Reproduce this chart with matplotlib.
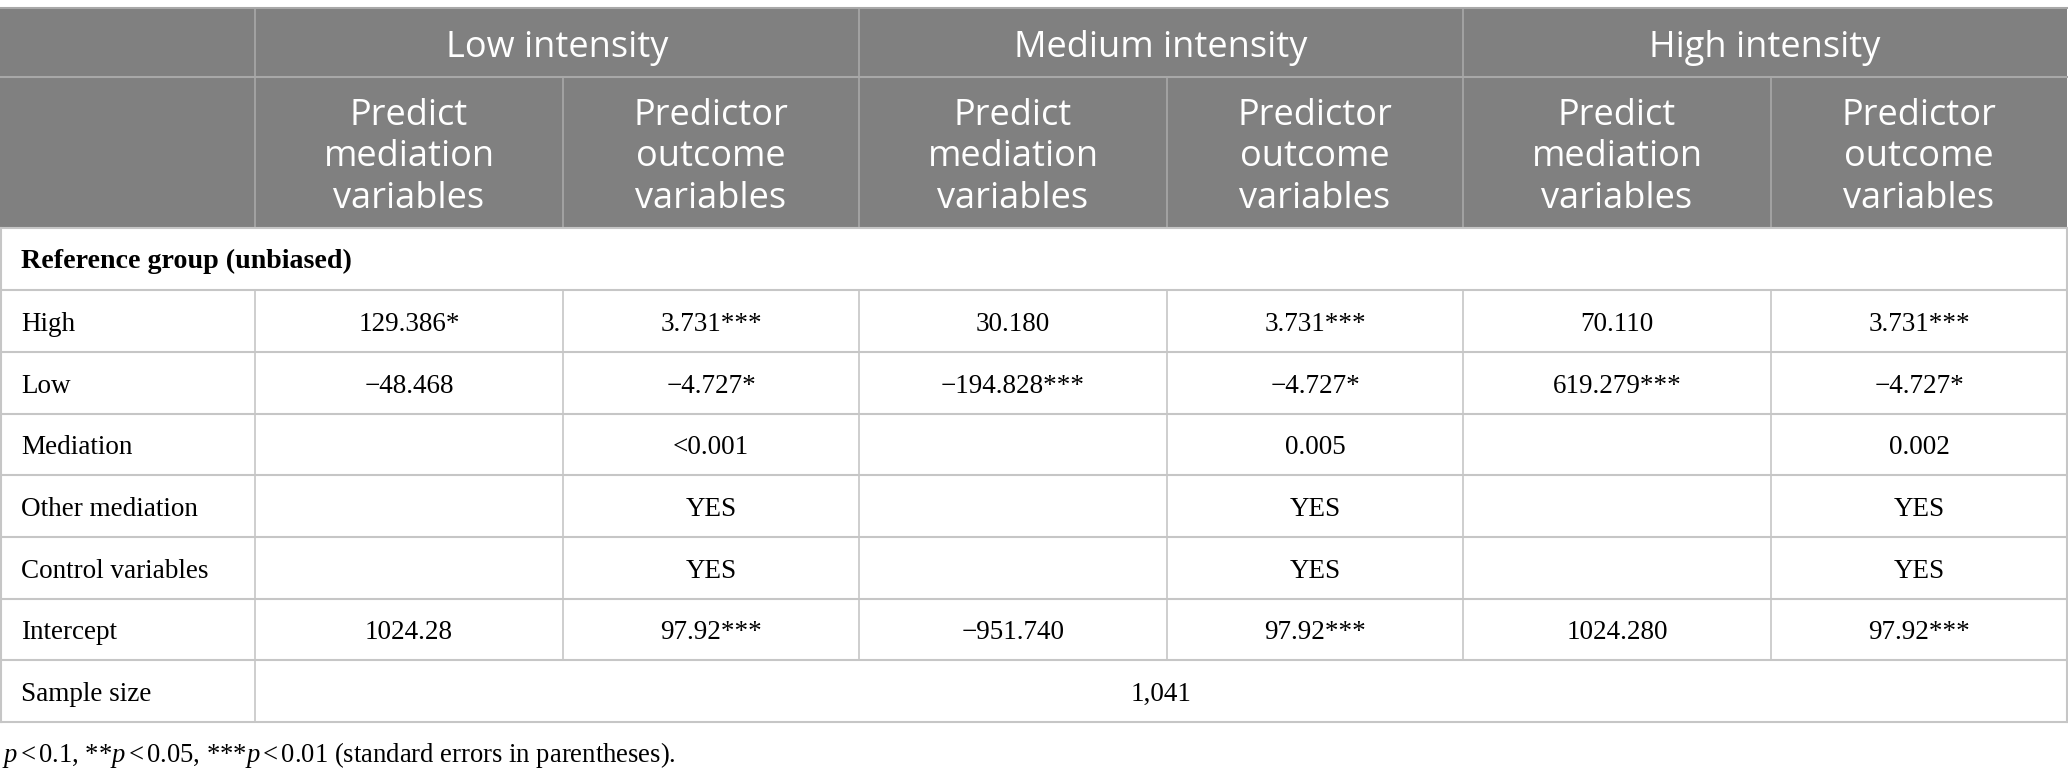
import matplotlib
matplotlib.use("Agg")
import matplotlib.pyplot as plt
from matplotlib.patches import Rectangle

plt.rcParams['mathtext.fontset'] = 'custom'
plt.rcParams['mathtext.rm'] = 'Liberation Serif'
plt.rcParams['mathtext.it'] = 'Liberation Serif:italic'

# table content
groups = ["Low intensity", "Medium intensity", "High intensity"]
sub_headers = ["Predict\nmediation\nvariables", "Predictor\noutcome\nvariables"] * 3
section_label = "Reference group (unbiased)"
row_labels = ["High", "Low", "Mediation", "Other mediation", "Control variables", "Intercept"]
high_vals = ["129.386*", "3.731***", "30.180", "3.731***", "70.110", "3.731***"]
low_vals = ["\u221248.468", "\u22124.727*", "\u2212194.828***", "\u22124.727*", "619.279***", "\u22124.727*"]
mediation_vals = ["", "<0.001", "", "0.005", "", "0.002"]
other_vals = ["", "YES", "", "YES", "", "YES"]
control_vals = ["", "YES", "", "YES", "", "YES"]
intercept_vals = ["1024.28", "97.92***", "\u2212951.740", "97.92***", "1024.280", "97.92***"]
sample_label = "Sample size"
sample_value = "1,041"
footnote = r"$p\,$<$\,$0.1, **$p\,$<$\,$0.05, ***$p\,$<$\,$0.01 (standard errors in parentheses)."

body_rows = [high_vals, low_vals, mediation_vals, other_vals, control_vals, intercept_vals]

# layout in pixels
W, H = 2068, 780
col_x = [0, 255, 563, 859, 1167, 1463, 1771, 2067]
y_top, y_h1, y_h2 = 8, 77, 228
row_y = [228, 290, 352, 414, 475, 537, 599, 660, 722]

head_bg = "#808080"
head_line = "#a8a8a8"
grid = "#c6c6c6"
serif = "Liberation Serif"
sans = "Open Sans"
body_fs = 19.5
head_fs = 26
base_off = 0.33 * body_fs * 100 / 72  # baseline below the row centre

fig = plt.figure(figsize=(W / 100, H / 100), dpi=100)
ax = fig.add_axes([0, 0, 1, 1])
ax.set_xlim(0, W)
ax.set_ylim(H, 0)
ax.axis("off")

# header block
ax.add_patch(Rectangle((0, y_top), col_x[-1], y_h2 - y_top, facecolor=head_bg, edgecolor="none"))
ax.plot([0, col_x[-1]], [y_top, y_top], color=head_line, lw=1.5)
ax.plot([0, col_x[-1]], [y_h1, y_h1], color=head_line, lw=1.5)
for x in [col_x[1], col_x[3], col_x[5]]:
    ax.plot([x, x], [y_top, y_h1], color=head_line, lw=1.2)
for x in col_x[1:-1]:
    ax.plot([x, x], [y_h1, y_h2], color=head_line, lw=1.2)

for i, g in enumerate(groups):
    cx = (col_x[1 + 2 * i] + col_x[3 + 2 * i]) / 2
    ax.text(cx, (y_top + y_h1) / 2 + 6, g, color="white", fontsize=head_fs, family=sans,
            ha="center", va="center")
for i, s in enumerate(sub_headers):
    cx = (col_x[1 + i] + col_x[2 + i]) / 2
    ax.text(cx, (y_h1 + y_h2) / 2 + 5, s, color="white", fontsize=head_fs, family=sans,
            ha="center", va="center", linespacing=1.2)

# body grid
for y in row_y:
    ax.plot([0, col_x[-1]], [y, y], color=grid, lw=1.5)
ax.plot([0.8, 0.8], [row_y[0], row_y[-1]], color=grid, lw=1.5)
ax.plot([col_x[-1], col_x[-1]], [row_y[0], row_y[-1]], color=grid, lw=1.5)
for x in col_x[1:-1]:
    ax.plot([x, x], [row_y[1], row_y[-2]], color=grid, lw=1.2)
ax.plot([col_x[1], col_x[1]], [row_y[-2], row_y[-1]], color=grid, lw=1.2)

ax.text(21, (row_y[0] + row_y[1]) / 2 + base_off, section_label, fontsize=body_fs + 0.7,
        family=serif, weight="bold", ha="left", va="baseline")

for r, (lab, vals) in enumerate(zip(row_labels, body_rows)):
    cy = (row_y[r + 1] + row_y[r + 2]) / 2 + base_off + 1
    ax.text(21, cy, lab, fontsize=body_fs, family=serif, ha="left", va="baseline")
    for c, v in enumerate(vals):
        cx = (col_x[1 + c] + col_x[2 + c]) / 2
        ax.text(cx, cy, v, fontsize=body_fs, family=serif, ha="center", va="baseline")

cy = (row_y[-2] + row_y[-1]) / 2 + base_off + 1
ax.text(21, cy, sample_label, fontsize=body_fs, family=serif, ha="left", va="baseline")
ax.text((col_x[1] + col_x[-1]) / 2, cy, sample_value, fontsize=body_fs, family=serif,
        ha="center", va="baseline")

ax.text(2, 753 + base_off, footnote, fontsize=body_fs - 0.3, family=serif, ha="left",
        va="baseline")

fig.savefig("out.png", dpi=100)
